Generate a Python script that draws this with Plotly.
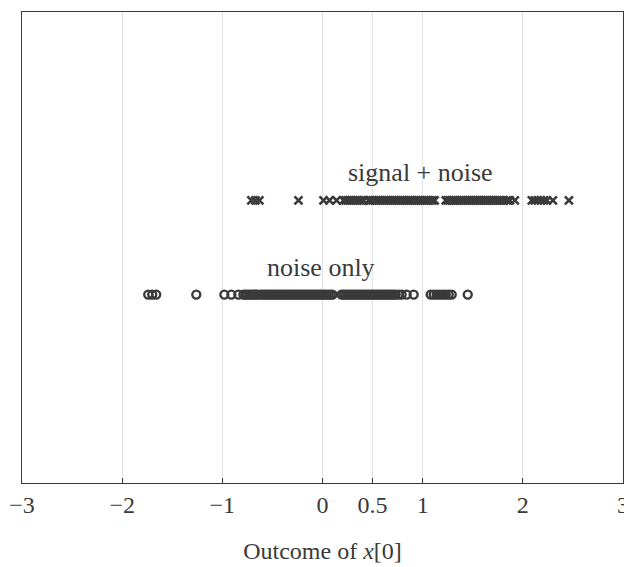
import plotly.graph_objects as go

noise_only = [-1.74, -1.70, -1.66, -1.26, -0.98, -0.91, -0.84,
              -0.79, -0.77, -0.75, -0.73, -0.71, -0.69, -0.67, -0.65, -0.62, -0.60,
              -0.58, -0.56, -0.54, -0.52, -0.50, -0.48, -0.46, -0.44, -0.42, -0.40,
              -0.38, -0.36, -0.34, -0.32, -0.30, -0.28, -0.26, -0.24, -0.22, -0.20,
              -0.18, -0.16, -0.14, -0.12, -0.10, -0.08, -0.06, -0.04, -0.02, 0.00,
              0.02, 0.04, 0.06, 0.08, 0.10, 0.19, 0.21, 0.23, 0.25, 0.27,
              0.29, 0.31, 0.33, 0.35, 0.37, 0.39, 0.41, 0.43, 0.45, 0.47,
              0.49, 0.51, 0.53, 0.55, 0.57, 0.59, 0.61, 0.63, 0.65, 0.67,
              0.69, 0.71, 0.73, 0.76, 0.79, 0.84, 0.91,
              1.08, 1.11, 1.14, 1.17, 1.20, 1.23, 1.26, 1.29, 1.45]

signal_noise = [-0.71, -0.67, -0.63, -0.24, 0.01, 0.07, 0.14,
                0.21, 0.23, 0.25, 0.27, 0.29, 0.31, 0.33, 0.35, 0.37, 0.39,
                0.41, 0.46, 0.48, 0.50, 0.52, 0.54, 0.56, 0.58, 0.60, 0.62,
                0.64, 0.66, 0.68, 0.70, 0.72, 0.74, 0.76, 0.78, 0.80, 0.82,
                0.84, 0.86, 0.88, 0.90, 0.92, 0.94, 0.96, 0.98, 1.00, 1.02,
                1.04, 1.06, 1.08, 1.10, 1.12, 1.23, 1.25, 1.27, 1.29, 1.31,
                1.33, 1.35, 1.37, 1.39, 1.41, 1.43, 1.45, 1.47, 1.49, 1.51,
                1.53, 1.55, 1.57, 1.59, 1.61, 1.63, 1.65, 1.67, 1.69, 1.71,
                1.73, 1.75, 1.77, 1.79, 1.81, 1.84, 1.87, 1.92,
                2.09, 2.12, 2.15, 2.18, 2.21, 2.24, 2.30, 2.46]

row_levels = {"noise only": 2, "signal + noise": 3}
tick_vals = [-3, -2, -1, 0, 0.5, 1, 2, 3]
tick_text = ["\u22123", "\u22122", "\u22121", "0", "0.5", "1", "2", "3"]

ink = "#3a3a3a"
font_family = "Liberation Serif, DejaVu Serif, serif"

fig = go.Figure()
fig.add_trace(go.Scatter(
    x=signal_noise, y=[row_levels["signal + noise"]] * len(signal_noise),
    mode="markers",
    marker=dict(symbol="x-thin-open", size=8, color=ink, line=dict(width=2.6, color=ink)),
    showlegend=False))
fig.add_trace(go.Scatter(
    x=noise_only, y=[row_levels["noise only"]] * len(noise_only),
    mode="markers",
    marker=dict(symbol="circle-open", size=8, color=ink, line=dict(width=2.4, color=ink)),
    showlegend=False))

fig.add_annotation(x=0.98, y=3.3, text="signal + noise", showarrow=False,
                   font=dict(family=font_family, size=26, color=ink))
fig.add_annotation(x=-0.02, y=2.29, text="noise only", showarrow=False,
                   font=dict(family=font_family, size=26, color=ink))

fig.update_xaxes(range=[-3, 3], tickvals=tick_vals, ticktext=tick_text,
                 automargin=False,
                 showgrid=True, gridcolor="#e2e2e2", gridwidth=1,
                 ticks="inside", ticklen=5, tickcolor=ink,
                 showline=True, linecolor=ink, linewidth=1.3, mirror=True,
                 zeroline=False,
                 tickfont=dict(family=font_family, size=24, color=ink),
                 title=dict(text="Outcome of <i>x</i>[0]", standoff=25,
                            font=dict(family=font_family, size=24, color=ink)))
fig.update_yaxes(range=[0, 5], showticklabels=False, showgrid=False, ticks="",
                 automargin=False,
                 showline=True, linecolor=ink, linewidth=1.3, mirror=True,
                 zeroline=False)

# page body has an 8px default margin; size the figure so the plot lands where it should
fig.update_layout(width=624, height=559,
                  margin=dict(l=14, r=9, t=4, b=84),
                  plot_bgcolor="white", paper_bgcolor="white")

fig.write_html("out.html")
